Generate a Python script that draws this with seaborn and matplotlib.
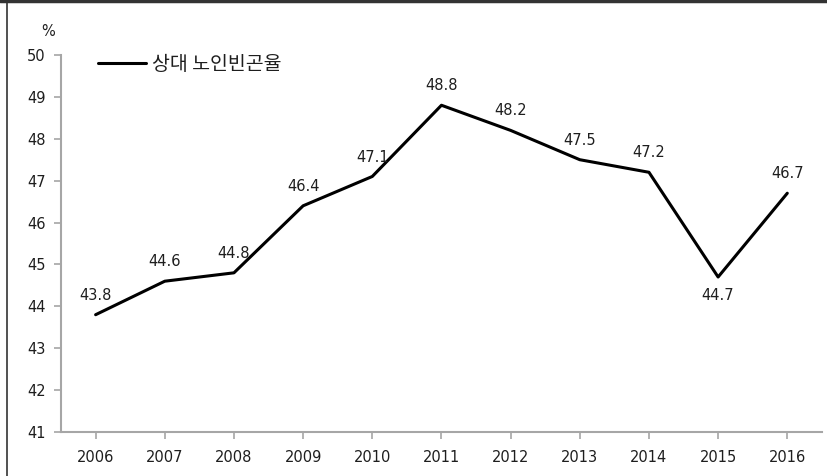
import matplotlib
matplotlib.use("Agg")
import matplotlib.pyplot as plt
import seaborn as sns
import pandas as pd
from matplotlib.lines import Line2D

years = ["2006", "2007", "2008", "2009", "2010", "2011", "2012", "2013", "2014", "2015", "2016"]
poverty_rate = [43.8, 44.6, 44.8, 46.4, 47.1, 48.8, 48.2, 47.5, 47.2, 44.7, 46.7]
series_name = "상대 노인빈곤율"
y_ticks = [41, 42, 43, 44, 45, 46, 47, 48, 49, 50]

sns.set_theme(style="white")
plt.rcParams["font.family"] = ["DejaVu Sans", "Noto Sans CJK KR"]

df = pd.DataFrame({"year": years, "rate": poverty_rate})

fig = plt.figure(figsize=(8.27, 4.76), dpi=100)
ax = fig.add_axes([0.0738, 0.0924, 0.920, 0.7921])

sns.lineplot(data=df, x="year", y="rate", ax=ax, color="black", linewidth=2.2,
             sort=False, legend=False)

ax.set_xlim(-0.5, len(years) - 0.5)
ax.set_ylim(41, 50)
ax.set_yticks(y_ticks)
ax.set_xlabel("")
ax.set_ylabel("")

text_color = "#1e1e1e"
fs = 10.5
for s in ["top", "right"]:
    ax.spines[s].set_visible(False)
for s in ["left", "bottom"]:
    ax.spines[s].set_color("#a6a6a6")
    ax.spines[s].set_linewidth(1.5)
ax.tick_params(axis="both", which="both", direction="out", length=5, width=1.2,
               color="#a6a6a6", labelsize=fs, labelcolor=text_color, pad=6,
               bottom=True, left=True)
ax.tick_params(axis="x", pad=8)

# value labels: above each point, below for the 2015 dip
for i, v in enumerate(poverty_rate):
    dy = -13 if years[i] == "2015" else 14
    ax.annotate(f"{v:.1f}", (i, v), xytext=(0, dy), textcoords="offset points",
                ha="center", va="center", fontsize=fs, color=text_color)

# unit label
fig.text(41 / 827, 1 - 31 / 476, "%", ha="left", va="center", fontsize=fs, color=text_color)

# legend
handle = Line2D([0], [0], color="black", linewidth=2.2)
leg = ax.legend([handle], [series_name], loc="upper left", bbox_to_anchor=(0.025, 1.05),
                frameon=False, handlelength=2.5, handletextpad=0.3,
                labelcolor=text_color,
                prop={"family": ["Noto Sans CJK KR"], "size": 14})

# figure frame on top and left edges
fig.add_artist(Line2D([0, 1], [0.998, 0.998], transform=fig.transFigure,
                      color="#333333", linewidth=2.5))
fig.add_artist(Line2D([6.5 / 827, 6.5 / 827], [0, 1], transform=fig.transFigure,
                      color="#333333", linewidth=1.2))

fig.savefig("out.png", dpi=100)
